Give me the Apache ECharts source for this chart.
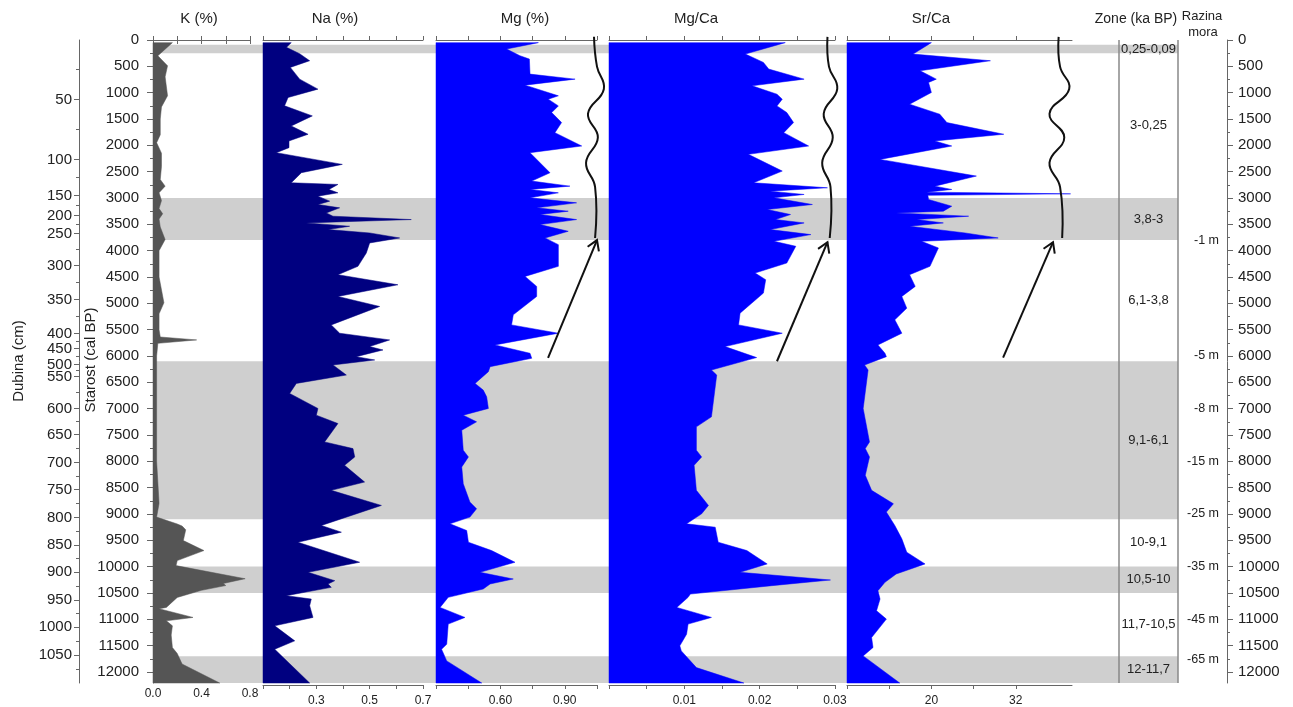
<!DOCTYPE html>
<html><head><meta charset="utf-8">
<script src="https://cdn.jsdelivr.net/npm/echarts@6/dist/echarts.min.js"></script>
<style>html,body{margin:0;padding:0;background:#fff}#c{width:1293px;height:707px}</style>
</head><body><div id="c"></div><script>
// ---------- DATA ([age cal BP, value]) ----------
const kProfile = [[50,0.16],[300,0.04],[490,0.12],[700,0.1],[1060,0.12],[1270,0.07],[1500,0.06],[1800,0.06],[1950,0.03],[2150,0.07],[2400,0.07],[2650,0.06],[2775,0.1],[2900,0.05],[3050,0.07],[3200,0.05],[3300,0.08],[3400,0.05],[3550,0.06],[3790,0.1],[4000,0.05],[4500,0.05],[4990,0.09],[5200,0.05],[5500,0.05],[5640,0.06],[5695,0.36],[5760,0.04],[6000,0.03],[7000,0.03],[8000,0.03],[8800,0.05],[9060,0.03],[9190,0.2],[9230,0.24],[9300,0.27],[9505,0.25],[9695,0.42],[9886,0.2],[9981,0.19],[10230,0.76],[10320,0.58],[10360,0.6],[10450,0.4],[10585,0.2],[10775,0.11],[10800,0.05],[10965,0.33],[11030,0.11],[11124,0.16],[11300,0.15],[11537,0.16],[11650,0.2],[11850,0.24],[12210,0.55]];
const naProfile = [[50,0.206],[140,0.188],[260,0.2375],[394,0.275],[520,0.2025],[743,0.2375],[933,0.306],[1092,0.194],[1250,0.181],[1441,0.285],[1632,0.206],[1790,0.269],[1917,0.1975],[2044,0.1975],[2140,0.15],[2362,0.3975],[2520,0.244],[2711,0.206],[2743,0.381],[2838,0.3475],[2902,0.381],[2965,0.306],[3060,0.35],[3124,0.306],[3187,0.3875],[3283,0.3375],[3346,0.3625],[3410,0.656],[3473,0.2625],[3537,0.425],[3600,0.344],[3664,0.5],[3759,0.6125],[3854,0.5],[4044,0.4875],[4298,0.456],[4457,0.381],[4648,0.606],[4870,0.381],[5060,0.5375],[5410,0.356],[5568,0.3875],[5695,0.575],[5822,0.5],[5886,0.55],[6013,0.45],[6076,0.519],[6171,0.3625],[6362,0.4125],[6521,0.225],[6711,0.2],[6997,0.306],[7124,0.3],[7283,0.381],[7632,0.331],[7759,0.4375],[7917,0.444],[8076,0.406],[8394,0.481],[8552,0.356],[8838,0.544],[9156,0.356],[9219,0.319],[9346,0.394],[9537,0.231],[9917,0.4625],[10108,0.269],[10267,0.369],[10330,0.344],[10394,0.356],[10552,0.1875],[10616,0.281],[10743,0.275],[10965,0.2875],[11124,0.144],[11410,0.219],[11568,0.144],[12210,0.275]];
const mgProfile = [[50,0.777],[171,0.629],[298,0.691],[362,0.735],[648,0.738],[743,0.948],[857,0.715],[1060,0.870],[1124,0.823],[1251,0.870],[1378,0.839],[1568,0.885],[1759,0.854],[2013,0.979],[2140,0.738],[2521,0.831],[2679,0.746],[2775,0.924],[2838,0.738],[2902,0.870],[2997,0.738],[3092,0.955],[3187,0.769],[3251,0.916],[3314,0.784],[3410,0.955],[3505,0.784],[3632,0.916],[3759,0.808],[3886,0.870],[4298,0.870],[4489,0.715],[4679,0.769],[4870,0.769],[5219,0.660],[5410,0.652],[5568,0.870],[5790,0.575],[5949,0.738],[6044,0.746],[6203,0.552],[6298,0.544],[6521,0.482],[6648,0.520],[6775,0.536],[6997,0.544],[7124,0.427],[7251,0.489],[7410,0.420],[7790,0.427],[7917,0.451],[8108,0.420],[8425,0.427],[8775,0.458],[8902,0.489],[9060,0.458],[9187,0.365],[9314,0.443],[9537,0.451],[9695,0.559],[9917,0.668],[10108,0.505],[10235,0.660],[10330,0.552],[10425,0.520],[10584,0.357],[10775,0.319],[10965,0.435],[11092,0.357],[11473,0.350],[11568,0.326],[11790,0.350],[12210,0.513]];
const mgCaProfile = [[50,0.0234],[267,0.0181],[425,0.0205],[552,0.0212],[743,0.0259],[870,0.0190],[1029,0.0223],[1124,0.0230],[1251,0.0223],[1378,0.0236],[1568,0.0245],[1759,0.0232],[2013,0.0265],[2171,0.0185],[2489,0.0230],[2711,0.0192],[2806,0.0290],[2870,0.0214],[2933,0.0259],[2997,0.0219],[3124,0.0270],[3219,0.0210],[3314,0.0241],[3410,0.0221],[3473,0.0259],[3600,0.0214],[3695,0.0268],[3822,0.0219],[3917,0.0248],[4235,0.0236],[4425,0.0194],[4552,0.0208],[4806,0.0205],[5187,0.0174],[5410,0.0172],[5568,0.0230],[5822,0.0154],[6030,0.0196],[6267,0.0136],[6362,0.0143],[7156,0.0136],[7346,0.0116],[7790,0.0116],[7917,0.0123],[8076,0.0113],[8552,0.0116],[8838,0.0132],[8997,0.0123],[9187,0.0103],[9251,0.0141],[9537,0.0145],[9695,0.0183],[9949,0.0210],[10108,0.0174],[10254,0.0294],[10362,0.0216],[10521,0.0108],[10584,0.0105],[10775,0.0090],[10965,0.0136],[11092,0.0105],[11283,0.0103],[11505,0.0094],[11600,0.0096],[11918,0.0116],[12210,0.0179]];
const srCaProfile = [[50,20.0],[267,17.4],[394,28.4],[584,18.4],[743,20.7],[806,19.6],[997,20.0],[1219,16.9],[1409,21.2],[1568,22.2],[1790,30.3],[1917,20.5],[2013,22.9],[2267,12.7],[2584,26.4],[2775,20.5],[2838,22.9],[2889,19.3],[2921,39.8],[2950,19.5],[3029,19.6],[3156,22.9],[3251,21.7],[3283,15.0],[3346,25.3],[3410,17.9],[3473,21.7],[3537,16.9],[3664,24.8],[3759,29.5],[3822,18.6],[3949,21.0],[4298,19.8],[4457,16.9],[4679,17.7],[4870,15.8],[5092,16.5],[5314,14.8],[5568,15.8],[5790,12.4],[5949,13.4],[6013,13.6],[6171,10.5],[6267,11.0],[6997,10.3],[7632,11.2],[7759,10.6],[7917,11.2],[8267,10.6],[8552,11.5],[8806,14.6],[8965,13.6],[9219,14.8],[9473,15.8],[9727,16.5],[9949,19.1],[10140,15.0],[10298,13.4],[10457,12.4],[10616,12.7],[10838,12.2],[10997,13.6],[11346,11.5],[11537,11.7],[11695,10.3],[12210,15.5]];

// zones (ka BP)
const zoneTop    = [90, 250, 3000, 3800, 6100, 9100, 10000, 10500, 11700];
const zoneBottom = [250, 3000, 3800, 6100, 9100, 10000, 10500, 11700, 12210];
const zoneLabels = ['0,25-0,09','3-0,25','3,8-3','6,1-3,8','9,1-6,1','10-9,1','10,5-10','11,7-10,5','12-11,7'];
const zoneShaded = [1, 0, 1, 0, 1, 0, 1, 0, 1];

// sea level (Razina mora)
const seaAges   = [3800, 6000, 7000, 8000, 9000, 10000, 11000, 11760];
const seaLabels = ['-1 m','-5 m','-8 m','-15 m','-25 m','-35 m','-45 m','-65 m'];

// age axis ticks
const ageTicks = [0,500,1000,1500,2000,2500,3000,3500,4000,4500,5000,5500,6000,6500,7000,7500,8000,8500,9000,9500,10000,10500,11000,11500,12000];
const ageMinorTicks = [250,750,1250,1750,2250,2750,3250,3750,4250,4750,5250,5750,6250,6750,7250,7750,8250,8750,9250,9750,10250,10750,11250,11750];

// depth (cm) axis: label and the age it sits at
const depthLabels = [50,100,150,200,250,300,350,400,450,500,550,600,650,700,750,800,850,900,950,1000,1050];
const depthAges   = [1132,2272,2956,3335,3677,4285,4931,5577,5862,6166,6394,7002,7495,8027,8540,9072,9585,10098,10630,11143,11675];
const depthMinorAges = [560,1701,2614,3145,3506,3981,4608,5254,5720,6014,6280,6698,7249,7761,8284,8806,9329,9842,10364,10887,11409,11940];

// x-axis ticks / labels per panel
const kTicks = [0,0.2,0.4,0.6,0.8],            kLabels = [0,0.4,0.8];
const naTicks = [0.1,0.2,0.3,0.4,0.5,0.6,0.7], naLabels = [0.3,0.5,0.7];
const mgTicks = [0.3,0.45,0.6,0.75,0.9,1.05],  mgLabels = [0.6,0.9];
const mgCaTicks = [0,0.005,0.01,0.015,0.02,0.025,0.03], mgCaLabels = [0.01,0.02,0.03];
const srCaTicks = [8,14,20,26,32], srCaLabels = [20,32];

// sea-level annotation curves [value, age]
const waveAges = [-60, 505, 930, 1400, 1850, 2330, 2790, 3760];
const mgWave   = [1.036, 1.050, 1.082, 1.008, 1.054, 0.999, 1.041, 1.041];
const mgCaWave = [0.0290, 0.0292, 0.0303, 0.0285, 0.0297, 0.0283, 0.0294, 0.0293];
const srCaWave = [38.1, 38.3, 39.6, 36.8, 38.9, 36.8, 38.3, 38.6];
// arrows [fromValue, fromAge, toValue, toAge]
const mgArrow   = [0.822, 6035, 1.05, 3800];
const mgCaArrow = [0.0223, 6100, 0.0290, 3840];
const srCaArrow = [30.2, 6030, 37.3, 3840];

// ---------- LAYOUT ----------
const FONT = 'Liberation Sans, Arial, sans-serif';
const AGE_MAX = 12210, TOP = 40, HEIGHT = 643;
const TXT = '#222', AX = '#666';

const panels = [
  {title:'K (%)',  tx:199, left:153, width:97,  min:0,   max:0.8,  ticks:kTicks,   labels:kLabels,   fmt:v=>v.toFixed(1), data:kProfile,   color:'#555555', lm:3},
  {title:'Na (%)', tx:335, left:263, width:160, min:0.1, max:0.7,  ticks:naTicks,  labels:naLabels,  fmt:v=>v.toFixed(1), data:naProfile,  color:'#000080', lm:10},
  {title:'Mg (%)', tx:525, left:436, width:161, min:0.3, max:1.05, ticks:mgTicks,  labels:mgLabels,  fmt:v=>v.toFixed(2), data:mgProfile,  color:'#0000ff', lm:10, wave:mgWave, arrow:mgArrow},
  {title:'Mg/Ca',  tx:696, left:609, width:226, min:0,   max:0.03, ticks:mgCaTicks,labels:mgCaLabels,fmt:v=>v.toFixed(2), data:mgCaProfile,color:'#0000ff', lm:10, wave:mgCaWave, arrow:mgCaArrow},
  {title:'Sr/Ca',  tx:931, left:847, width:225, min:8,   max:40,   ticks:srCaTicks,labels:srCaLabels,fmt:v=>String(v),    data:srCaProfile,color:'#0000ff', lm:10, wave:srCaWave, arrow:srCaArrow}
];

const grid = [{left:153, top:TOP, width:1025, height:HEIGHT}];
const xAxis = [{type:'value', gridIndex:0, min:0, max:1, show:false}];
const yAxis = [];
const series = [];
function ageAxis(g, extra){ return Object.assign({type:'value', gridIndex:g, min:0, max:AGE_MAX, inverse:true, splitLine:{show:false}}, extra); }
const lbl = {fontSize:15, color:TXT, fontFamily:FONT};
const plain = v => String(Math.round(v));

// grid 0 axes: hidden + right age axis
yAxis.push(ageAxis(0,{show:false}));
yAxis.push(ageAxis(0,{position:'right', offset:49, axisLine:{show:true,lineStyle:{color:AX}},
  axisTick:{show:true, customValues:ageTicks, length:6, lineStyle:{color:AX}},
  axisLabel:Object.assign({customValues:ageTicks, margin:11, formatter:plain}, lbl)}));
yAxis.push(ageAxis(0,{position:'right', offset:49, axisLine:{show:false},
  axisTick:{show:true, customValues:ageMinorTicks, length:3, lineStyle:{color:AX}}, axisLabel:{show:false}}));

// bands
series.push({type:'custom', xAxisIndex:0, yAxisIndex:0, z:0, silent:true,
  data: zoneTop.map((t,i)=>[0, t, zoneBottom[i], zoneShaded[i]]),
  renderItem:(params, api)=>{
    const cs = params.coordSys;
    const y0 = api.coord([0, api.value(1)])[1], y1 = api.coord([0, api.value(2)])[1];
    const ch = [];
    if (api.value(3)) ch.push({type:'rect', shape:{x:cs.x, y:y0, width:cs.width, height:y1-y0}, style:{fill:'#cfcfcf'}});
    ch.push({type:'text', x: cs.x + cs.width - 29.5, y:(y0+y1)/2,
      style:{text:zoneLabels[params.dataIndex], fill:TXT, font:'13px '+FONT, textAlign:'center', textVerticalAlign:'middle', align:'center', verticalAlign:'middle'}, z2:5});
    return {type:'group', children:ch};
  }});
// sea-level labels
series.push({type:'custom', xAxisIndex:0, yAxisIndex:0, z:3, silent:true, clip:false,
  data: seaAges.map(a=>[1, a]),
  renderItem:(params, api)=>{
    const cs = params.coordSys;
    const y = api.coord([0, api.value(1)])[1];
    return {type:'text', x: cs.x + cs.width + 41, y:y,
      style:{text:seaLabels[params.dataIndex], fill:TXT, font:'12.5px '+FONT, textAlign:'right', textVerticalAlign:'middle', align:'right', verticalAlign:'middle'}};
  }});

panels.forEach((p, i)=>{
  const g = i + 1;
  grid.push({left:p.left, top:TOP, width:p.width, height:HEIGHT});
  xAxis.push({type:'value', gridIndex:g, position:'top', offset:2, min:p.min, max:p.max,
    axisLine:{show:true, lineStyle:{color:AX}}, axisTick:{show:true, customValues:p.ticks, length:4, lineStyle:{color:AX}},
    axisLabel:{show:false}, splitLine:{show:false}});
  const xb = xAxis.length;
  xAxis.push({type:'value', gridIndex:g, position:'bottom', offset:2, min:p.min, max:p.max,
    axisLine:{show:true, lineStyle:{color:AX}}, axisTick:{show:true, customValues:p.ticks, length:4, lineStyle:{color:AX}},
    axisLabel:{customValues:p.labels, formatter:p.fmt, fontSize:12, color:TXT, fontFamily:FONT, margin:p.lm},
    splitLine:{show:false}});
  const yi = yAxis.length;
  if (i === 0) {
    yAxis.push(ageAxis(g,{position:'left', axisLine:{show:true,lineStyle:{color:AX}},
      axisTick:{show:true, customValues:ageTicks, length:6, lineStyle:{color:AX}},
      axisLabel:Object.assign({customValues:ageTicks, margin:14, formatter:plain}, lbl)}));
    yAxis.push(ageAxis(g,{position:'left', axisLine:{show:false},
      axisTick:{show:true, customValues:ageMinorTicks, length:3, lineStyle:{color:AX}}, axisLabel:{show:false}}));
    yAxis.push(ageAxis(g,{position:'left', offset:74, axisLine:{show:true,lineStyle:{color:AX}},
      axisTick:{show:true, customValues:depthAges, length:5, lineStyle:{color:AX}},
      axisLabel:Object.assign({customValues:depthAges, margin:7, formatter:v=>{
        let b=0; depthAges.forEach((a,k)=>{ if (Math.abs(a-v) < Math.abs(depthAges[b]-v)) b=k; }); return String(depthLabels[b]); }}, lbl)}));
    yAxis.push(ageAxis(g,{position:'left', offset:74, axisLine:{show:false},
      axisTick:{show:true, customValues:depthMinorAges, length:3, lineStyle:{color:AX}}, axisLabel:{show:false}}));
  } else {
    yAxis.push(ageAxis(g,{show:false}));
  }
  // area profile
  series.push({type:'custom', xAxisIndex:xb, yAxisIndex:yi, z:2, silent:true,
    data: p.data.map(d=>[d[1], d[0]]),
    renderItem:(params, api)=>{
      if (params.dataIndex !== 0) return null;
      const pts = [api.coord([p.min, p.data[0][0]])];
      p.data.forEach(d=>pts.push(api.coord([d[1], d[0]])));
      pts.push(api.coord([p.min, p.data[p.data.length-1][0]]));
      return {type:'polygon', shape:{points:pts}, style:{fill:p.color, stroke:p.color, lineWidth:0.5}};
    }});
  if (p.wave) {
    series.push({type:'custom', xAxisIndex:xb, yAxisIndex:yi, z:6, clip:false, silent:true,
      data: waveAges.map((a,k)=>[p.wave[k], a]),
      renderItem:(params, api)=>{
        if (params.dataIndex !== 0) return null;
        const pts = waveAges.map((a,k)=>api.coord([p.wave[k], a]));
        return {type:'polyline', shape:{points:pts, smooth:0.45}, style:{stroke:'#111', lineWidth:2, fill:null}};
      }});
    series.push({type:'custom', xAxisIndex:xb, yAxisIndex:yi, z:6, clip:false, silent:true,
      data:[p.arrow],
      renderItem:(params, api)=>{
        const a = api.coord([api.value(0), api.value(1)]);
        const b = api.coord([api.value(2), api.value(3)]);
        const ang = Math.atan2(a[1]-b[1], a[0]-b[0]);
        const L = 11.5, s = 32*Math.PI/180;
        const p1 = [b[0]+L*Math.cos(ang+s), b[1]+L*Math.sin(ang+s)];
        const p2 = [b[0]+L*Math.cos(ang-s), b[1]+L*Math.sin(ang-s)];
        return {type:'group', children:[
          {type:'line', shape:{x1:a[0],y1:a[1],x2:b[0],y2:b[1]}, style:{stroke:'#111', lineWidth:2}},
          {type:'polyline', shape:{points:[p1,b,p2]}, style:{stroke:'#111', lineWidth:2, fill:null}}
        ]};
      }});
  }
});

function txt(text, x, y, size, rot){
  return {type:'text', x:x, y:y, rotation:rot||0,
    style:{text:text, fill:TXT, font:size+'px '+FONT, textAlign:'center', textVerticalAlign:'middle', align:'center', verticalAlign:'middle'}};
}
const graphic = [
  ...panels.map(p=>txt(p.title, p.tx, 19, 15)),
  txt('Zone (ka BP)', 1136, 19, 14),
  txt('Razina', 1202, 16, 13),
  txt('mora', 1203, 32, 13),
  txt('Dubina (cm)', 19, 361, 15, Math.PI/2),
  txt('Starost (cal BP)', 91, 360, 15, Math.PI/2),
  {type:'line', shape:{x1:1119, y1:40, x2:1119, y2:683}, style:{stroke:'#888', lineWidth:1.5}, z:10},
  {type:'line', shape:{x1:1178, y1:40, x2:1178, y2:683}, style:{stroke:'#888', lineWidth:1.5}, z:10}
];

const chart = echarts.init(document.getElementById('c'), null, {renderer:'canvas'});
chart.setOption({animation:false, backgroundColor:'#fff', grid, xAxis, yAxis, series, graphic});
</script></body></html>
